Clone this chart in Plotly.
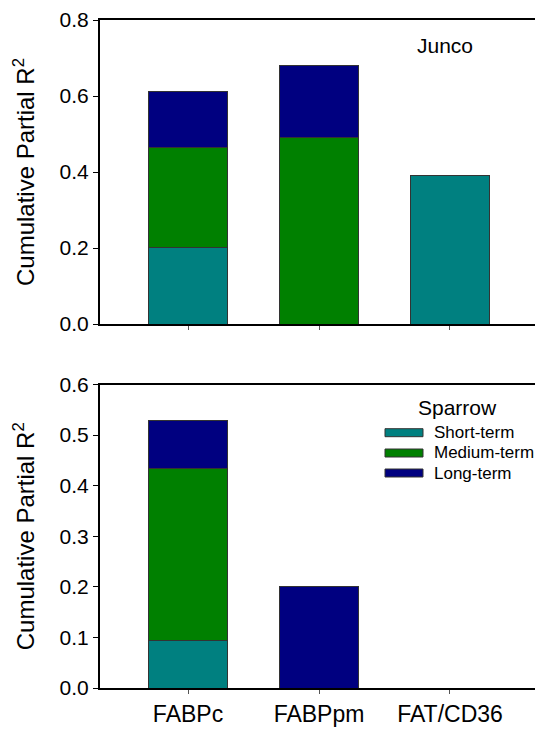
import plotly.graph_objects as go

# Categories and cumulative partial R^2 components per time scale
categories = ["FABPc", "FABPpm", "FAT/CD36"]
series_names = ["Short-term", "Medium-term", "Long-term"]
series_colors = ["#008080", "#008000", "#000080"]

junco_short = [0.202, None, 0.390]
junco_medium = [0.263, 0.491, None]
junco_long = [0.147, 0.189, None]

sparrow_short = [0.093, None, None]
sparrow_medium = [0.340, None, None]
sparrow_long = [0.095, 0.200, None]

junco_ticks = [0.0, 0.2, 0.4, 0.6, 0.8]
sparrow_ticks = [0.0, 0.1, 0.2, 0.3, 0.4, 0.5, 0.6]

W, H = 535, 729
FONT = "Arial, Liberation Sans, sans-serif"


def px_x(p):
    return p / W


def px_y(p):
    return 1 - p / H


fig = go.Figure()

panels = [
    ("x", "y", [junco_short, junco_medium, junco_long]),
    ("x2", "y2", [sparrow_short, sparrow_medium, sparrow_long]),
]
for xa, ya, vals in panels:
    for name, color, v in zip(series_names, series_colors, vals):
        fig.add_trace(go.Bar(
            x=categories, y=v, name=name, xaxis=xa, yaxis=ya,
            marker=dict(color=color, line=dict(color="#333333", width=1)),
            width=0.6, showlegend=False,
        ))

xrange_ = [-0.672, 2.649]
common_x = dict(
    range=xrange_, showline=True, linecolor="black", linewidth=2, mirror=True,
    ticks="outside", ticklen=4, tickcolor="#555555", showgrid=False, zeroline=False,
    domain=[px_x(100), 1.0],
)
common_y = dict(
    showline=True, linecolor="black", linewidth=2, ticks="outside", ticklen=5,
    tickcolor="black", showgrid=False, zeroline=False, tickformat=".1f",
    tickfont=dict(size=21, family=FONT, color="black"),
    title=dict(text="Cumulative Partial R<sup>2</sup>", standoff=18,
               font=dict(size=24, family=FONT, color="black")),
    automargin=False,
)

fig.update_layout(
    width=W, height=H, barmode="stack", bargap=0.4,
    margin=dict(l=0, r=0, t=0, b=0),
    paper_bgcolor="white", plot_bgcolor="white",
    font=dict(family=FONT, color="black"),
    xaxis=dict(**common_x, anchor="y", showticklabels=False),
    yaxis=dict(**common_y, domain=[px_y(324), px_y(20)], range=[0, 0.8],
               tickvals=junco_ticks, anchor="x"),
    xaxis2=dict(**common_x, anchor="y2", showticklabels=True,
                tickfont=dict(size=23, family=FONT, color="black")),
    yaxis2=dict(**common_y, domain=[px_y(688), px_y(384.5)], range=[0, 0.6],
                tickvals=sparrow_ticks, anchor="x2"),
)

# Panel labels
fig.add_annotation(text="Junco", xref="paper", yref="paper", x=px_x(445), y=px_y(45),
                   xanchor="center", yanchor="middle", showarrow=False,
                   font=dict(size=21, family=FONT, color="black"))
fig.add_annotation(text="Sparrow", xref="paper", yref="paper", x=px_x(457), y=px_y(407),
                   xanchor="center", yanchor="middle", showarrow=False,
                   font=dict(size=21, family=FONT, color="black"))

# Legend key for the time scales
rows = [432.7, 453.0, 473.0]
for name, color, cy in zip(series_names, series_colors, rows):
    fig.add_shape(type="rect", xref="paper", yref="paper",
                  x0=px_x(385), x1=px_x(423), y0=px_y(cy + 4), y1=px_y(cy - 4),
                  fillcolor=color, line=dict(color="#333333", width=1))
    fig.add_annotation(text=name, xref="paper", yref="paper", x=px_x(432), y=px_y(cy),
                       xanchor="left", yanchor="middle", showarrow=False,
                       font=dict(size=17, family=FONT, color="black"))

fig.write_html("out.html")
